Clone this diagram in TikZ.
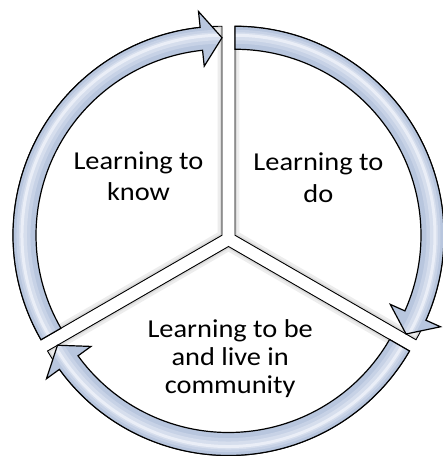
\documentclass[tikz,border=0pt]{standalone}
\usepackage{fontspec}
\newfontfamily\lblfont{Carlito}[FakeStretch=1.1]
\definecolor{arrowbase}{RGB}{184,198,222}
\definecolor{hlone}{RGB}{199,210,230}
\definecolor{hltwo}{RGB}{214,222,237}
\definecolor{hlthree}{RGB}{234,238,247}
\newcommand\pieshape[3]{(#1) -- ([shift={(#2:209pt)}]#1) arc[start angle=#2, end angle=#3, radius=209pt] -- cycle}
\newcommand\cyclearrow[3]{%
  \pgfmathsetmacro\backang{#3+6}%
  \def\arrowshape{([shift={(#2:209pt)}]#1) arc[start angle=#2, end angle=\backang, radius=209pt]
    -- ([shift={(\backang:225pt)}]#1) -- ([shift={(#3:197.5pt)}]#1) -- ([shift={(\backang:170pt)}]#1)
    -- ([shift={(\backang:186pt)}]#1) arc[start angle=\backang, end angle=#2, radius=186pt] -- cycle}%
  \fill[arrowbase] \arrowshape;
  \begin{scope}
    \clip \arrowshape;
    \draw[hlone, line width=14pt] ([shift={(#2:198.5pt)}]#1) arc[start angle=#2, end angle=#3, radius=198.5pt];
    \draw[hltwo, line width=8pt] ([shift={(#2:199pt)}]#1) arc[start angle=#2, end angle=#3, radius=199pt];
    \draw[hlthree, line width=3pt] ([shift={(#2:200pt)}]#1) arc[start angle=#2, end angle=#3, radius=200pt];
  \end{scope}
  \draw[arrowline] \arrowshape;
}
\newcommand\cyclepie[3]{%
  \fill[white] \pieshape{#1}{#2}{#3};
  \begin{scope}
    \clip \pieshape{#1}{#2}{#3};
    \draw[black!7, line width=9pt] \pieshape{#1}{#2}{#3};
    \draw[black!14, line width=4pt] \pieshape{#1}{#2}{#3};
  \end{scope}
  \draw[pieline] \pieshape{#1}{#2}{#3};
}
\begin{document}
\begin{tikzpicture}[x=1pt,y=1pt,
  pieline/.style={draw=black, line width=0.9pt, line join=miter},
  arrowline/.style={draw=black, line width=1.2pt, line join=miter},
  lbl/.style={inner sep=0pt, font=\lblfont, anchor=base}]
\useasboundingbox (0,0) rectangle (443,456);
\coordinate (C) at (228.5,217);
\coordinate (A) at ([shift={(150:7.5pt)}]C);
\coordinate (B) at ([shift={(30:7.5pt)}]C);
\coordinate (D) at ([shift={(270:7.5pt)}]C);
% pie slices
\cyclepie{A}{90}{210}
\cyclepie{B}{-30}{90}
\cyclepie{D}{210}{330}
% arrows
\cyclearrow{A}{210}{90}
\cyclearrow{B}{90}{-30}
\cyclearrow{D}{330}{210}
% labels
\node[lbl] (know) at (138.5,286.7) {\fontsize{25.8}{31.7}\selectfont\begin{tabular}[t]{@{}c@{}}Learning to\\know\end{tabular}};
\node[lbl] (do) at (318.4,285.3) {\fontsize{25.8}{31.7}\selectfont\begin{tabular}[t]{@{}c@{}}Learning to\\do\end{tabular}};
\node[lbl] (be) at (230.2,118.7) {\fontsize{25.8}{28.2}\selectfont\begin{tabular}[t]{@{}c@{}}Learning to be\\and live in\\community\end{tabular}};
\end{tikzpicture}
\end{document}
